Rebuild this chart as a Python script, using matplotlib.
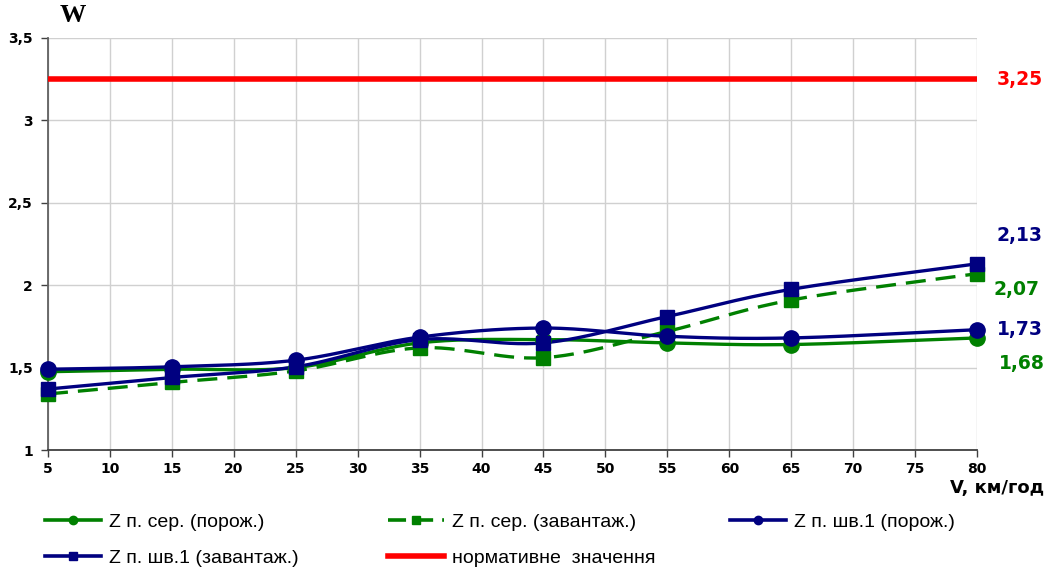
import numpy as np
import matplotlib
matplotlib.use("Agg")
import matplotlib.pyplot as plt
from matplotlib.lines import Line2D

plt.rcParams['font.family'] = ['Liberation Sans', 'DejaVu Sans']

# ---- data ----
speeds = [5, 15, 25, 35, 45, 55, 65, 80]
z_ser_poroz = [1.475, 1.49, 1.50, 1.65, 1.67, 1.65, 1.64, 1.68]
z_ser_zavant = [1.34, 1.41, 1.48, 1.62, 1.56, 1.72, 1.91, 2.07]
z_shv_poroz = [1.49, 1.505, 1.545, 1.685, 1.74, 1.69, 1.68, 1.73]
z_shv_zavant = [1.37, 1.44, 1.505, 1.67, 1.65, 1.81, 1.975, 2.13]
norm_value = 3.25
x_ticks = [5, 10, 15, 20, 25, 30, 35, 40, 45, 50, 55, 60, 65, 70, 75, 80]
y_ticks = [1, 1.5, 2, 2.5, 3, 3.5]
y_tick_labels = ['1', '1,5', '2', '2,5', '3', '3,5']
labels = ['Z п. сер. (порож.)', 'Z п. сер. (завантаж.)', 'Z п. шв.1 (порож.)',
          'Z п. шв.1 (завантаж.)', 'нормативне  значення']
end_labels = ['1,68', '2,07', '1,73', '2,13']

GREEN = '#008000'
NAVY = '#000080'
RED = '#FF0000'


def smooth(x, y, n=30, t=0.5):
    x = np.asarray(x, float); y = np.asarray(y, float)
    sx = (x.max() - x.min()); sy = 2.5
    P = np.column_stack([x / sx, y / sy])
    P = np.vstack([P[0] - (P[1] - P[0]), P, P[-1] + (P[-1] - P[-2])])
    out = []
    s = np.linspace(0, 1, n)[:, None]
    h00 = 2 * s**3 - 3 * s**2 + 1
    h10 = s**3 - 2 * s**2 + s
    h01 = -2 * s**3 + 3 * s**2
    h11 = s**3 - s**2
    for i in range(1, len(P) - 2):
        p0, p1, p2, p3 = P[i - 1], P[i], P[i + 1], P[i + 2]
        m1 = t * (p2 - p0)
        m2 = t * (p3 - p1)
        seg = h00 * p1 + h10 * m1 + h01 * p2 + h11 * m2
        out.append(seg if i == 1 else seg[1:])
    out = np.vstack(out)
    return out[:, 0] * sx, out[:, 1] * sy


fig = plt.figure(figsize=(10.51, 5.71), dpi=100)
ax = fig.add_axes([48 / 1051, 1 - 450 / 571, (977 - 48) / 1051, (450 - 38) / 571])

ax.set_xlim(5, 80)
ax.set_ylim(1, 3.5)
ax.set_xticks(x_ticks)
ax.set_yticks(y_ticks)
ax.set_yticklabels(y_tick_labels)
ax.grid(True, color='#d0d0d0', linewidth=1.0)
ax.set_axisbelow(True)
for s in ['top', 'right']:
    ax.spines[s].set_visible(False)
ax.spines['left'].set_color('#606060')
ax.spines['bottom'].set_color('#404040')
ax.spines['left'].set_linewidth(1.3)
ax.spines['bottom'].set_linewidth(1.3)
ax.tick_params(axis='both', direction='out', length=5, width=1, color='#404040')
ax.tick_params(axis='y', pad=6)
for lab in ax.get_xticklabels() + ax.get_yticklabels():
    lab.set_fontweight('bold')
    lab.set_fontfamily('DejaVu Sans')
    lab.set_fontsize(10)

series = [
    (z_ser_poroz, GREEN, 'o', '-'),
    (z_ser_zavant, GREEN, 's', (0, (6, 3))),
    (z_shv_poroz, NAVY, 'o', '-'),
    (z_shv_zavant, NAVY, 's', '-'),
]
for vals, col, mk, ls in series:
    sx, sy = smooth(speeds, vals)
    ax.plot(sx, sy, color=col, linestyle=ls, linewidth=2.4, zorder=3, clip_on=False)
    ax.plot(speeds, vals, linestyle='none', marker=mk, color=col,
            markersize=11 if mk == 'o' else 10, zorder=4, clip_on=False)

ax.axhline(norm_value, color=RED, linewidth=4, zorder=5)

# right-side value labels
fs = 13.5
efam = 'DejaVu Sans'
fig.text(1020 / 1051, 1 - 79 / 571, '3,25', color=RED, fontsize=fs, fontweight='bold', family=efam, ha='center', va='center')
fig.text(1020 / 1051, 1 - 236 / 571, end_labels[3], color=NAVY, fontsize=fs, fontweight='bold', family=efam, ha='center', va='center')
fig.text(1016 / 1051, 1 - 290 / 571, end_labels[1], color=GREEN, fontsize=fs, fontweight='bold', family=efam, ha='center', va='center')
fig.text(1020 / 1051, 1 - 329 / 571, end_labels[2], color=NAVY, fontsize=fs, fontweight='bold', family=efam, ha='center', va='center')
fig.text(1022 / 1051, 1 - 363 / 571, end_labels[0], color=GREEN, fontsize=fs, fontweight='bold', family=efam, ha='center', va='center')

fig.text(73 / 1051, 1 - 15 / 571, 'W', fontsize=19, fontweight='bold',
         family='Liberation Serif', ha='center', va='center')
fig.text(1044 / 1051, 1 - 488 / 571, 'V, км/год', fontsize=13, fontweight='bold',
         family='DejaVu Sans', ha='right', va='center')

# legend entries
handles = [
    Line2D([], [], color=GREEN, marker='o', markersize=6, linewidth=2.6),
    Line2D([], [], color=GREEN, marker='s', markersize=6, linewidth=2.6, linestyle=(0, (5, 2.5))),
    Line2D([], [], color=NAVY, marker='o', markersize=6, linewidth=2.6),
    Line2D([], [], color=NAVY, marker='s', markersize=6, linewidth=2.6),
    Line2D([], [], color=RED, linewidth=4),
]
positions = [(45, 522), (388, 522), (730, 522), (45, 558), (388, 558)]
for h, lab, (px, py) in zip(handles, labels, positions):
    fig.legend([h], [lab], loc='center left', bbox_to_anchor=(px / 1051, 1 - py / 571),
               frameon=False, fontsize=14, handlelength=2.9, handletextpad=0.4,
               borderpad=0, borderaxespad=0)

fig.savefig('out.png', dpi=100)
